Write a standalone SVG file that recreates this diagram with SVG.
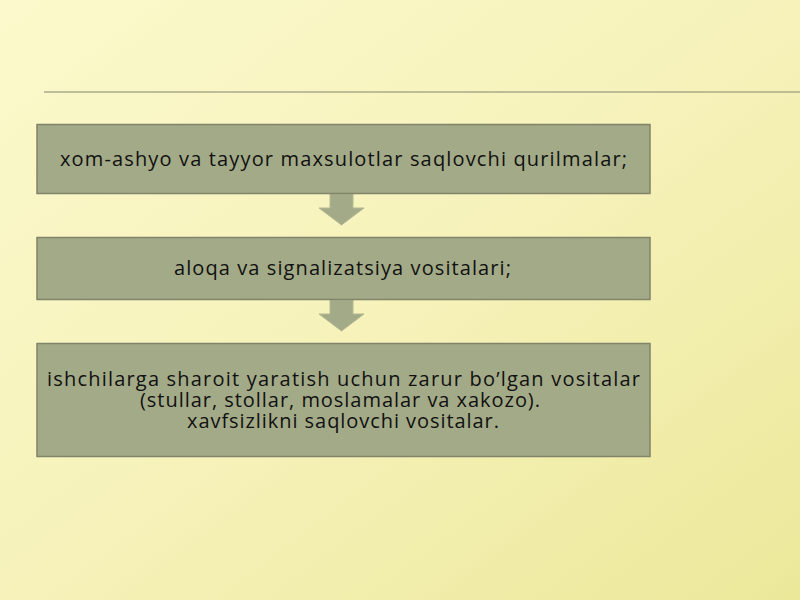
<svg xmlns="http://www.w3.org/2000/svg" width="800" height="600" viewBox="0 0 800 600">
<defs>
<linearGradient id="bg" x1="0" y1="0" x2="1" y2="1">
<stop offset="0" stop-color="#fcf9cc"/>
<stop offset="0.5" stop-color="#f6f2ba"/>
<stop offset="1" stop-color="#ece89a"/>
</linearGradient>
<style>
.box{fill:#a3aa87;stroke:#80846a;stroke-width:1.5}
.arr{fill:#a3aa87;stroke:#b4b894;stroke-width:1}
.t{font-family:"Open Sans","Noto Sans","DejaVu Sans",sans-serif;font-size:20px;fill:#111;text-anchor:middle}
</style>
</defs>
<rect x="0" y="0" width="800" height="600" fill="url(#bg)"/>
<line x1="44" y1="92" x2="800" y2="92" stroke="#a8ab8a" stroke-width="1.5"/>
<g id="connectors">
<path class="arr" d="M330 194 L353 194 L353 208 L364 208 L341.5 225 L319 208 L330 208 Z"/>
<path class="arr" d="M330 300 L353 300 L353 314 L364 314 L341.5 331 L319 314 L330 314 Z"/>
</g>
<g id="node1">
<rect class="box" x="37" y="124.5" width="613" height="69"/>
<text class="t" x="343.5" y="166" textLength="567" lengthAdjust="spacing">xom-ashyo va tayyor maxsulotlar saqlovchi qurilmalar;</text>
</g>
<g id="node2">
<rect class="box" x="37" y="237.5" width="613" height="62"/>
<text class="t" x="342.5" y="275" textLength="337" lengthAdjust="spacing">aloqa va signalizatsiya vositalari;</text>
</g>
<g id="node3">
<rect class="box" x="37" y="343.5" width="613" height="113"/>
<text class="t" x="343.5" y="386" textLength="593" lengthAdjust="spacing">ishchilarga sharoit yaratish uchun zarur bo’lgan vositalar</text>
<text class="t" x="340" y="407" textLength="400" lengthAdjust="spacing">(stullar, stollar, moslamalar va xakozo).</text>
<text class="t" x="343" y="428" textLength="312" lengthAdjust="spacing">xavfsizlikni saqlovchi vositalar.</text>
</g>
</svg>
